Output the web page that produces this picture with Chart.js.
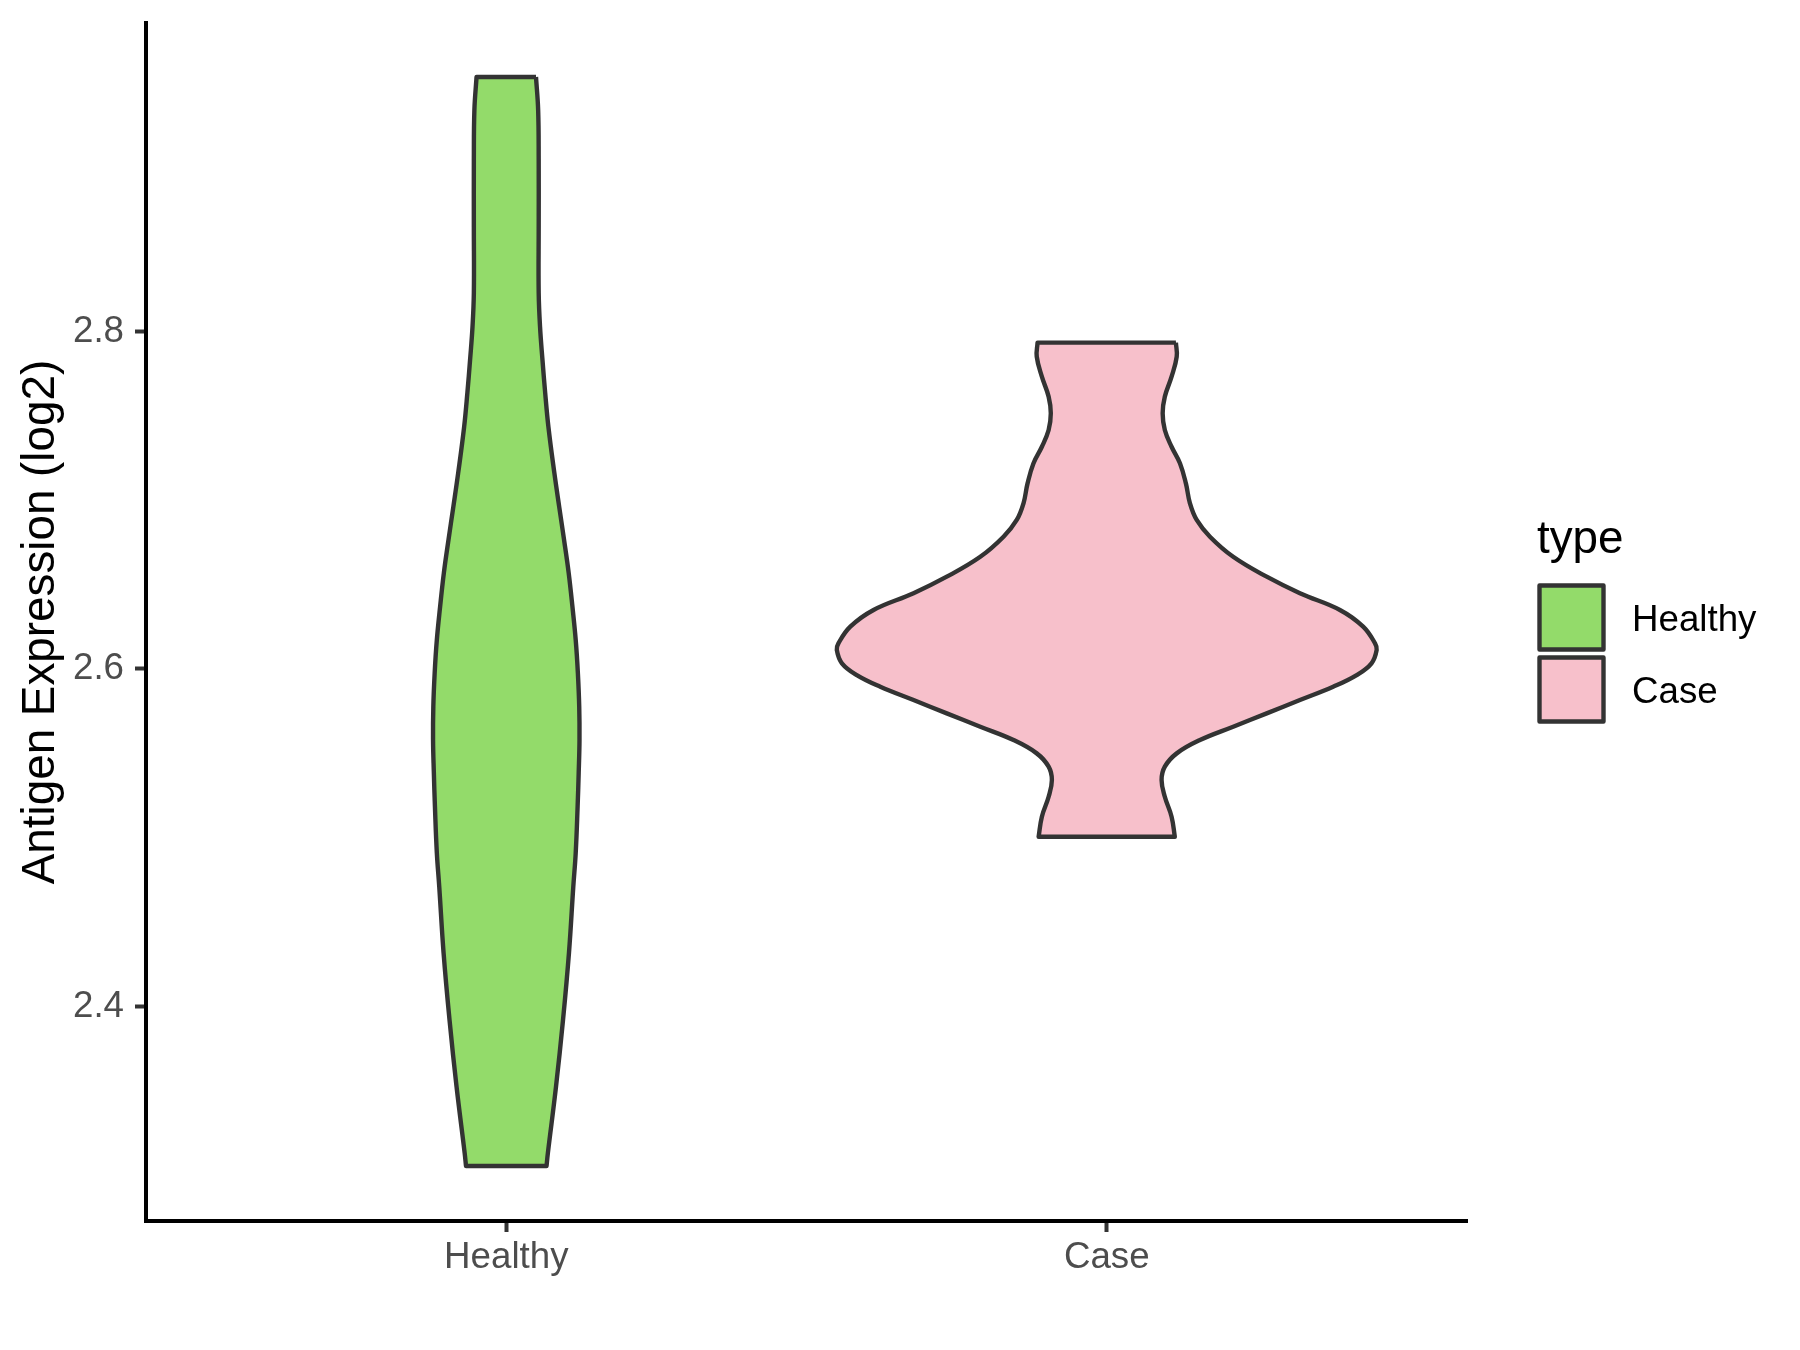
<!DOCTYPE html>
<html>
<head>
<meta charset="utf-8">
<script src="https://cdn.jsdelivr.net/npm/chart.js@4.4.1/dist/chart.umd.min.js"></script>
<style>
html, body { margin: 0; padding: 0; background: #ffffff; }
#wrap { width: 1800px; height: 1350px; }
</style>
</head>
<body>
<div id="wrap"><canvas id="c" width="1800" height="1350"></canvas></div>
<script>
// ---------------- data ----------------
const categories = ['Healthy', 'Case'];
const legendTitle = 'type';
const yAxisTitle = 'Antigen Expression (log2)';
const yTickValues = [2.4, 2.6, 2.8];

// violin outlines: value grid (top -> bottom) and scaled density (1 = widest violin)
const healthyY = [2.9508, 2.9312, 2.9016, 2.8619, 2.8228, 2.8027, 2.7831, 2.7636, 2.7434, 2.7161,
                  2.6960, 2.6764, 2.6569, 2.6367, 2.6172, 2.5976, 2.5775, 2.5581, 2.5384, 2.5184,
                  2.4911, 2.4709, 2.4317, 2.3920, 2.3524, 2.3132, 2.3055];
const healthyDensity = [0.110, 0.118, 0.120, 0.120, 0.120, 0.125, 0.134, 0.144, 0.156, 0.178,
                        0.196, 0.214, 0.231, 0.245, 0.257, 0.265, 0.270, 0.271, 0.268, 0.264,
                        0.257, 0.248, 0.232, 0.210, 0.184, 0.154, 0.149];

const caseY = [2.7934, 2.7851, 2.7732, 2.7614, 2.7515, 2.7416, 2.7317, 2.7219, 2.7100, 2.6982,
               2.6883, 2.6784, 2.6665, 2.6547, 2.6449, 2.6350, 2.6251, 2.6152, 2.6113, 2.6034,
               2.5964, 2.5895, 2.5816, 2.5737, 2.5658, 2.5579, 2.5500, 2.5421, 2.5342, 2.5243,
               2.5125, 2.5006];
const caseDensity = [0.256, 0.259, 0.240, 0.215, 0.207, 0.215, 0.240, 0.271, 0.293, 0.308,
                     0.333, 0.382, 0.468, 0.592, 0.715, 0.863, 0.949, 0.993, 0.999, 0.980,
                     0.925, 0.838, 0.715, 0.592, 0.468, 0.345, 0.259, 0.215, 0.203, 0.215,
                     0.240, 0.252];

// ---------------- styling ----------------
const FONT = '"Liberation Sans", Arial, Helvetica, sans-serif';
const fillColors = ['#93DB6A', '#F7C0CB'];
const outlineColor = '#333333';
const HALF_MAX = 0.45; // half of violin max width (category units)

function violinPoints(center, ys, dens) {
  const n = ys.length;
  const R = ys.map((y, i) => ({ x: center + dens[i] * HALF_MAX, y: y }));
  const L = ys.map((y, i) => ({ x: center - dens[i] * HALF_MAX, y: y }));
  const pts = [R[0]];
  for (let i = 0; i < n; i++) pts.push(R[i]);
  pts.push(R[n - 1]);
  pts.push(L[n - 1]);
  for (let i = n - 1; i >= 0; i--) pts.push(L[i]);
  pts.push(L[0]);
  pts.push(R[0]);
  return pts;
}

const datasets = [
  { label: categories[0], data: violinPoints(1, healthyY, healthyDensity), backgroundColor: fillColors[0] },
  { label: categories[1], data: violinPoints(2, caseY, caseDensity), backgroundColor: fillColors[1] }
].map(d => Object.assign(d, {
  showLine: true,
  fill: 'shape',
  borderColor: outlineColor,
  borderWidth: 4.4,
  borderJoinStyle: 'round',
  pointRadius: 0,
  pointHoverRadius: 0,
  tension: 0.4
}));

const legendPlugin = {
  id: 'ggLegend',
  afterDraw(chart) {
    const ctx = chart.ctx;
    ctx.save();
    ctx.textAlign = 'left';
    ctx.textBaseline = 'alphabetic';
    ctx.fillStyle = '#000000';
    ctx.font = '45.8px ' + FONT;
    ctx.fillText(legendTitle, 1537, 553);
    chart.data.datasets.forEach((ds, i) => {
      const top = 585.5 + i * 72;
      ctx.fillStyle = ds.backgroundColor;
      ctx.fillRect(1539.5, top, 64, 64);
      ctx.lineWidth = 4.4;
      ctx.strokeStyle = outlineColor;
      ctx.lineJoin = 'round';
      ctx.strokeRect(1539.5, top, 64, 64);
      ctx.fillStyle = '#000000';
      ctx.font = '36.7px ' + FONT;
      ctx.fillText(ds.label, 1632, top + 45);
    });
    ctx.restore();
  }
};

const axisGrid = { drawOnChartArea: false, drawTicks: true, tickLength: 11, tickWidth: 4, tickColor: outlineColor };
const axisBorder = { display: true, color: '#000000', width: 4 };

new Chart(document.getElementById('c'), {
  type: 'scatter',
  data: { datasets: datasets },
  options: {
    responsive: false,
    animation: false,
    devicePixelRatio: 1,
    layout: { padding: { top: 23, right: 333, bottom: 0, left: 0 } },
    plugins: { legend: { display: false }, tooltip: { enabled: false } },
    scales: {
      x: {
        type: 'linear',
        min: 0.4,
        max: 2.6,
        afterBuildTicks: s => { s.ticks = categories.map((c, i) => ({ value: i + 1 })); },
        afterFit: s => { s.height = 129; s.paddingLeft = 0; s.paddingRight = 0; },
        grid: axisGrid,
        border: axisBorder,
        ticks: {
          autoSkip: false, maxRotation: 0, minRotation: 0,
          callback: v => categories[Math.round(v) - 1],
          color: '#4D4D4D',
          font: { family: FONT, size: 36.7 },
          padding: 4
        }
      },
      y: {
        type: 'linear',
        min: 2.2729,
        max: 2.9828,
        afterBuildTicks: s => { s.ticks = yTickValues.map(v => ({ value: v })); },
        afterFit: s => { s.width = 146; s.paddingTop = 0; s.paddingBottom = 0; },
        grid: axisGrid,
        border: axisBorder,
        ticks: {
          callback: v => Number(v).toFixed(1),
          color: '#4D4D4D',
          font: { family: FONT, size: 36.7 },
          padding: 11
        },
        title: {
          display: true,
          text: yAxisTitle,
          color: '#000000',
          font: { family: FONT, size: 45.8 },
          padding: { top: 14, bottom: 0 }
        }
      }
    }
  },
  plugins: [legendPlugin]
});
</script>
</body>
</html>
